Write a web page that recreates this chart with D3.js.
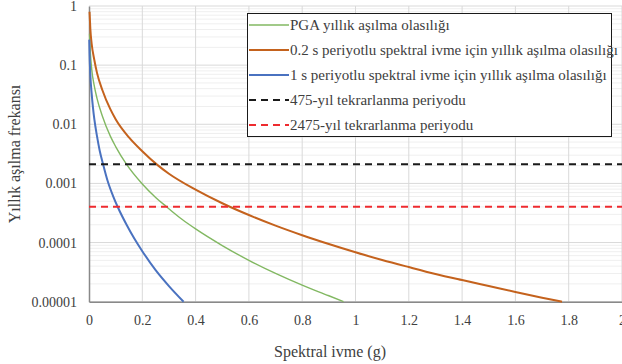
<!DOCTYPE html>
<html>
<head>
<meta charset="utf-8">
<script src="https://cdn.jsdelivr.net/npm/d3@7"></script>
<style>
  body { margin: 0; background: #fff; }
  svg text { font-family: 'Liberation Serif', 'Times New Roman', serif; fill: #404040; }
</style>
</head>
<body>
<svg id="chart" width="622" height="364"></svg>
<script>
// spectral acceleration (g) and annual exceedance frequency
var pgaX  = [0.002, 0.005, 0.01, 0.02, 0.03, 0.05, 0.08, 0.1, 0.141, 0.2, 0.25, 0.289, 0.35, 0.4, 0.5, 0.6, 0.7, 0.8, 0.9, 0.955];
var pgaY  = [0.34, 0.166, 0.087, 0.044, 0.0275, 0.0138, 0.0063, 0.0042, 0.0021, 0.00098, 0.00058, 0.00041, 0.000245, 0.00017, 0.000089, 0.00005, 0.00003, 0.000019, 0.0000126, 0.00001];
var sa02X = [0.002, 0.005, 0.01, 0.02, 0.03, 0.05, 0.08, 0.1, 0.15, 0.2, 0.254, 0.3, 0.4, 0.5, 0.6, 0.7, 0.8, 0.9, 1.0, 1.1, 1.2, 1.3, 1.4, 1.5, 1.6, 1.7, 1.775];
var sa02Y = [0.8, 0.41, 0.23, 0.122, 0.074, 0.038, 0.018, 0.0122, 0.006, 0.0035, 0.0021, 0.00146, 0.000785, 0.000462, 0.000292, 0.000193, 0.000133, 0.0000944, 0.0000684, 0.0000507, 0.0000385, 0.0000295, 0.0000232, 0.0000184, 0.0000146, 0.0000117, 0.00001];
var sa1X  = [0.001, 0.002, 0.005, 0.01, 0.015, 0.02, 0.03, 0.04, 0.053, 0.07, 0.09, 0.11, 0.14, 0.17, 0.2, 0.25, 0.3, 0.355];
var sa1Y  = [0.27, 0.16, 0.068, 0.033, 0.019, 0.0122, 0.0063, 0.0036, 0.0021, 0.0011, 0.000617, 0.00038, 0.000204, 0.000117, 0.0000715, 0.0000342, 0.0000184, 0.00001];

var returnPeriods = [475, 2475];
var xTicks = [0, 0.2, 0.4, 0.6, 0.8, 1, 1.2, 1.4, 1.6, 1.8, 2];
var yTicks = [1, 0.1, 0.01, 0.001, 0.0001, 0.00001];
var yTickLabels = ["1", "0.1", "0.01", "0.001", "0.0001", "0.00001"];

var legendLabels = [
  "PGA yıllık aşılma olasılığı",
  "0.2 s periyotlu spektral ivme için yıllık aşılma olasılığı",
  "1 s periyotlu spektral ivme için yıllık aşılma olasılığı",
  "475-yıl tekrarlanma periyodu",
  "2475-yıl tekrarlanma periyodu"
];

var svg = d3.select("#chart");
var plotLeft = 89, plotRight = 622, plotTop = 6, plotBottom = 301.7;
var serif = "'Liberation Serif', 'Times New Roman', serif";

var x = d3.scaleLinear().domain([0, 2]).range([plotLeft, plotRight]);
var y = d3.scaleLog().domain([0.00001, 1]).range([plotBottom, plotTop]);

// minor horizontal gridlines
var minor = [];
for (var e = -5; e < 0; e++) {
  for (var m = 2; m <= 9; m++) minor.push(m * Math.pow(10, e));
}
svg.append("g").selectAll("line").data(minor).enter().append("line")
  .attr("x1", plotLeft).attr("x2", plotRight)
  .attr("y1", function (d) { return y(d); }).attr("y2", function (d) { return y(d); })
  .attr("stroke", "#efefef").attr("stroke-width", 1);

// major gridlines
svg.append("g").selectAll("line").data(yTicks).enter().append("line")
  .attr("x1", plotLeft).attr("x2", plotRight)
  .attr("y1", function (d) { return y(d); }).attr("y2", function (d) { return y(d); })
  .attr("stroke", "#d9d9d9").attr("stroke-width", 1);
svg.append("g").selectAll("line").data(xTicks.slice(1)).enter().append("line")
  .attr("x1", function (d) { return x(d); }).attr("x2", function (d) { return x(d); })
  .attr("y1", plotTop).attr("y2", plotBottom)
  .attr("stroke", "#d9d9d9").attr("stroke-width", 1);

// axes
var xAxis = svg.append("g").attr("transform", "translate(0," + plotBottom + ")")
  .call(d3.axisBottom(x).tickValues(xTicks).tickSize(0).tickPadding(13).tickFormat(d3.format("")));
var yAxis = svg.append("g").attr("transform", "translate(" + plotLeft + ",0)")
  .call(d3.axisLeft(y).tickValues(yTicks).tickSize(0).tickPadding(12)
    .tickFormat(function (d, i) { return yTickLabels[i]; }));
[xAxis, yAxis].forEach(function (a) {
  a.select(".domain").attr("stroke", "#898989").attr("stroke-width", 1.5);
  a.selectAll("text").style("font-family", serif).style("font-size", "14px").attr("fill", "#404040");
});

// curves
var line = d3.line()
  .x(function (d) { return x(d[0]); })
  .y(function (d) { return y(d[1]); })
  .curve(d3.curveMonotoneX);

var series = [
  { xs: pgaX, ys: pgaY, color: "#82b862", width: 1.4 },
  { xs: sa02X, ys: sa02Y, color: "#c4621d", width: 2 },
  { xs: sa1X, ys: sa1Y, color: "#4a72c0", width: 2 }
];
series.forEach(function (s) {
  svg.append("path")
    .datum(d3.zip(s.xs, s.ys))
    .attr("fill", "none")
    .attr("stroke", s.color)
    .attr("stroke-width", s.width)
    .attr("d", line);
});

// return period lines
var rpColors = ["#1a1a1a", "#ee2b2f"];
returnPeriods.forEach(function (rp, i) {
  svg.append("line")
    .attr("x1", plotLeft).attr("x2", plotRight)
    .attr("y1", y(1 / rp)).attr("y2", y(1 / rp))
    .attr("stroke", rpColors[i]).attr("stroke-width", 2)
    .attr("stroke-dasharray", "7,5");
});

// axis titles
svg.append("text")
  .attr("transform", "translate(20,154) rotate(-90)")
  .attr("text-anchor", "middle")
  .style("font-family", serif).style("font-size", "16px")
  .text("Yıllık aşılma frekansı");
svg.append("text")
  .attr("x", 330).attr("y", 357)
  .attr("text-anchor", "middle")
  .style("font-family", serif).style("font-size", "16px")
  .text("Spektral ivme (g)");

// legend
var lg = svg.append("g");
lg.append("rect")
  .attr("x", 247.5).attr("y", 13.5).attr("width", 364).attr("height", 123)
  .attr("fill", "#fff").attr("stroke", "#1a1a1a").attr("stroke-width", 1);
var legendStyle = [
  { color: "#82b862", width: 1.4, dash: null },
  { color: "#c4621d", width: 2, dash: null },
  { color: "#4a72c0", width: 2, dash: null },
  { color: "#1a1a1a", width: 2, dash: "7,5" },
  { color: "#ee2b2f", width: 2, dash: "7,5" }
];
legendLabels.forEach(function (label, i) {
  var ly = 25 + i * 25;
  lg.append("line")
    .attr("x1", 249).attr("x2", 289).attr("y1", ly).attr("y2", ly)
    .attr("stroke", legendStyle[i].color).attr("stroke-width", legendStyle[i].width)
    .attr("stroke-dasharray", legendStyle[i].dash);
  lg.append("text")
    .attr("x", 290).attr("y", ly + 5)
    .style("font-family", serif).style("font-size", "15px")
    .attr("fill", "#262626")
    .text(label);
});
</script>
</body>
</html>
